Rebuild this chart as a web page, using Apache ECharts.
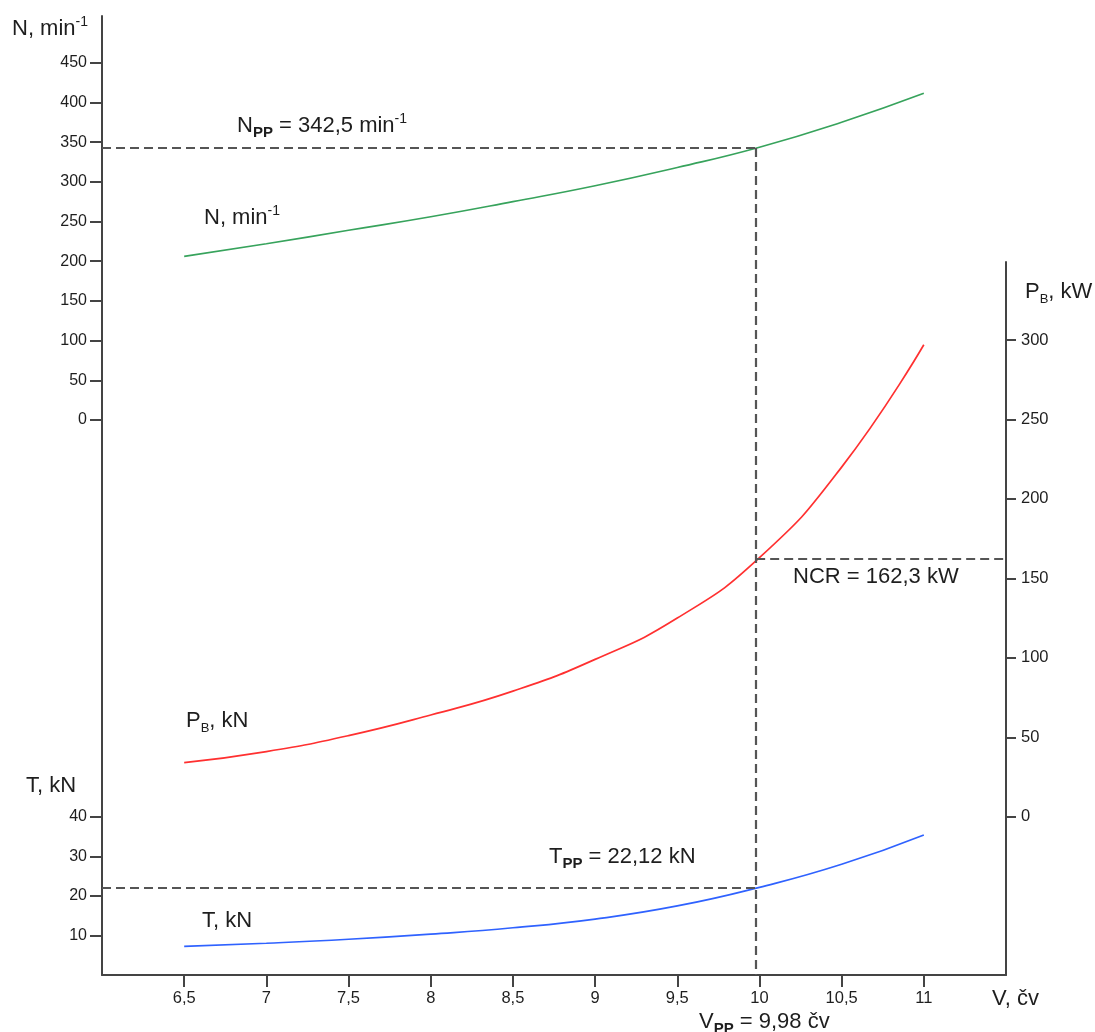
<!DOCTYPE html>
<html>
<head>
<meta charset="utf-8">
<script src="https://cdn.jsdelivr.net/npm/echarts@6/dist/echarts.min.js"></script>
<style>
html,body{margin:0;padding:0;background:#fff;}
#chart{width:1095px;height:1032px;}
</style>
</head>
<body>
<div id="chart"></div>
<script>
// ---------- data ----------
const V_KN = [6.5, 7, 7.5, 8, 8.5, 9, 9.5, 10, 10.5, 11];
const N_RPM = [206, 222, 239, 256, 275, 295, 318, 343.5, 375, 411.5];
const P_KW = [34, 41, 51, 64, 79, 99, 125, 163, 220, 297];
const T_KN = [7.3, 8.1, 9.1, 10.4, 12.0, 14.2, 17.5, 22.2, 28.0, 35.4];

const V_TICKS = [6.5, 7, 7.5, 8, 8.5, 9, 9.5, 10, 10.5, 11];
const N_TICKS = [0, 50, 100, 150, 200, 250, 300, 350, 400, 450];
const T_TICKS = [10, 20, 30, 40];
const P_TICKS = [0, 50, 100, 150, 200, 250, 300];

const V_PP = 9.98;
const N_PP = 342.5;
const T_PP = 22.12;
const NCR = 162.3;

const V_MIN = 6, V_MAX = 11.5;

// ---------- layout ----------
const PLOT_TOP = 16, PLOT_BOTTOM = 975, P_TOP = 262;
function axisRange(v0, y0, v1, y1, top, bottom) {
  const k = (y0 - y1) / (v1 - v0);
  return { min: v0 - (bottom - y0) / k, max: v1 + (y1 - top) / k };
}
const NR = axisRange(0, 420, 450, 62.7, PLOT_TOP, PLOT_BOTTOM);
const TR = axisRange(10, 935.7, 40, 816.7, PLOT_TOP, PLOT_BOTTOM);
const PR = axisRange(0, 816.7, 300, 340, P_TOP, PLOT_BOTTOM);

const FONT = 'Liberation Sans, Arial, sans-serif';
const AX = '#444';
const TXT = '#1e1e1e';
const DASH = { type: [9, 5], color: '#555', width: 2.2 };

const pairs = (ys) => V_KN.map((v, i) => [v, ys[i]]);
const comma = (v) => String(v).replace('.', ',');

function yAxisDef(grid, pos, range, ticks, showLine, labelSize) {
  return {
    type: 'value', gridIndex: grid, position: pos,
    min: range.min, max: range.max,
    axisLine: { show: showLine, onZero: false, lineStyle: { color: AX, width: 2 } },
    axisTick: { show: true, inside: false, length: pos === 'left' ? 12 : 10, customValues: ticks, lineStyle: { color: AX, width: 2 } },
    axisLabel: { show: true, customValues: ticks, margin: 15, fontSize: labelSize, color: TXT, fontFamily: FONT, formatter: comma },
    splitLine: { show: false }
  };
}

const rich = {
  m: { fontSize: 22, fontFamily: FONT, fill: TXT, lineHeight: 28, verticalAlign: 'middle' },
  sup: { fontSize: 14, fontFamily: FONT, fill: TXT, lineHeight: 28, verticalAlign: 'top' },
  sub: { fontSize: 15, fontFamily: FONT, fill: TXT, fontWeight: 'bold', lineHeight: 28, verticalAlign: 'bottom' },
  subs: { fontSize: 13, fontFamily: FONT, fill: TXT, lineHeight: 26, verticalAlign: 'bottom' }
};
function txt(x, y, text) {
  return { type: 'text', x: x, y: y, silent: true,
    style: { text: text, rich: rich, fill: TXT, font: '22px ' + FONT, align: 'left', verticalAlign: 'middle' } };
}

const lineSeries = (name, yi, xi, data, color, markData) => ({
  name: name, type: 'line', xAxisIndex: xi, yAxisIndex: yi, data: pairs(data),
  smooth: 0.5, showSymbol: false, silent: true, clip: false,
  lineStyle: { color: color, width: 1.7 }, itemStyle: { color: color },
  markLine: { silent: true, symbol: ['none', 'none'], label: { show: false }, lineStyle: DASH, data: markData }
});

const chart = echarts.init(document.getElementById('chart'), null, { renderer: 'canvas' });
chart.setOption({
  animation: false,
  backgroundColor: '#fff',
  grid: [
    { left: 102, right: 1095 - 1006, top: PLOT_TOP, bottom: 1032 - PLOT_BOTTOM, containLabel: false },
    { left: 102, right: 1095 - 1006, top: P_TOP, bottom: 1032 - PLOT_BOTTOM, containLabel: false }
  ],
  xAxis: [
    { type: 'value', gridIndex: 0, min: V_MIN, max: V_MAX, position: 'bottom',
      axisLine: { show: true, onZero: false, lineStyle: { color: AX, width: 2 } },
      axisTick: { show: true, length: 12, customValues: V_TICKS, lineStyle: { color: AX, width: 2 } },
      axisLabel: { customValues: V_TICKS, formatter: comma, margin: 15, fontSize: 16.5, color: TXT, fontFamily: FONT },
      splitLine: { show: false } },
    { type: 'value', gridIndex: 1, min: V_MIN, max: V_MAX, show: false,
      axisLine: { onZero: false }, splitLine: { show: false } }
  ],
  yAxis: [
    yAxisDef(0, 'left', NR, N_TICKS, true, 16),
    yAxisDef(0, 'left', TR, T_TICKS, false, 16),
    yAxisDef(1, 'right', PR, P_TICKS, true, 16.5)
  ],
  series: [
    lineSeries('N', 0, 0, N_RPM, '#37a35c', [
      [{ coord: [V_MIN, N_PP] }, { coord: [V_PP, N_PP] }],
      [{ coord: [V_PP, N_PP] }, { coord: [V_PP, NR.min] }]
    ]),
    lineSeries('T', 1, 0, T_KN, '#2f62ff', [
      [{ coord: [V_MIN, T_PP] }, { coord: [V_PP, T_PP] }]
    ]),
    lineSeries('P', 2, 1, P_KW, '#ff3030', [
      [{ coord: [V_PP, NCR] }, { coord: [V_MAX, NCR] }]
    ])
  ],
  graphic: [
    txt(12, 29, '{m|N, min}{sup|-1}'),
    txt(237, 126, '{m|N}{sub|PP}{m| = 342,5 min}{sup|-1}'),
    txt(204, 218, '{m|N, min}{sup|-1}'),
    txt(1025, 292, '{m|P}{subs|B}{m|, kW}'),
    txt(793, 577, '{m|NCR = 162,3 kW}'),
    txt(186, 721, '{m|P}{subs|B}{m|, kN}'),
    txt(26, 786, '{m|T, kN}'),
    txt(549, 857, '{m|T}{sub|PP}{m| = 22,12 kN}'),
    txt(202, 921, '{m|T, kN}'),
    txt(992, 999, '{m|V, čv}'),
    txt(699, 1022, '{m|V}{sub|PP}{m| = 9,98 čv}')
  ]
});
</script>
</body>
</html>
